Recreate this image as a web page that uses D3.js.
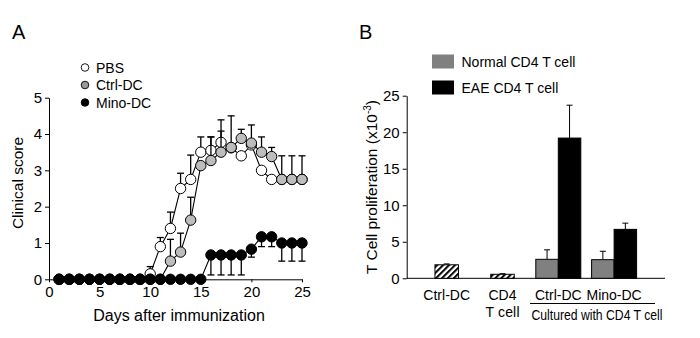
<!DOCTYPE html>
<html>
<head>
<meta charset="utf-8">
<script src="https://cdn.jsdelivr.net/npm/d3@7"></script>
<style>
  body { margin: 0; background: #fff; }
  svg { font-family: "Liberation Sans", Arial, sans-serif; }
  .axis path, .axis line { stroke: #000; stroke-width: 1; }
  .axis text { font-size: 15px; fill: #000; }
</style>
</head>
<body>
<svg id="chart" width="700" height="338"></svg>
<script>
// ---- panel A data ----
var days = d3.range(1, 26);
var pbs     = [0,0,0,0,0,0,0,0,0, 0.15,0.9,1.4,2.5,2.75,3.5,3.55,3.77,3.62,3.4,3.7,3.0,2.75,2.75,2.75,2.75];
var pbsErr  = [0,0,0,0,0,0,0,0,0, 0.2,0.25,0.45,0.42,0.67,0.42,0.37,0.62,0,0,0,0,0,0,0,0];
var ctrl    = [0,0,0,0,0,0,0,0,0,0,0, 0.5,0.75,1.63,3.13,3.27,3.5,3.63,3.88,3.75,3.5,3.38,2.75,2.75,2.75];
var ctrlErr = [0,0,0,0,0,0,0,0,0,0,0, 0.6,0.52,0.63,0,0.65,0.58,0.87,0.25,0.5,0.42,0.25,0.65,0.65,0.65];
var mino    = [0,0,0,0,0,0,0,0,0,0,0,0,0,0,0, 0.67,0.67,0.67,0.67,0.83,1.17,1.17,1.0,1.0,1.0];
var minoErr = [0,0,0,0,0,0,0,0,0,0,0,0,0,0,0, 0.55,0.55,0.55,0.55,0.22,0.27,0.27,0.5,0.5,0.5];
var xTicksA = [0, 5, 10, 15, 20, 25];
var yTicksA = [0, 1, 2, 3, 4, 5];

// ---- panel B data ----
var groups = ["g1", "g2", "g3", "g4"];
var groupLabels = [["Ctrl-DC"], ["CD4", "T cell"], ["Ctrl-DC"], ["Mino-DC"]];
var hatchGroups = ["g1", "g2"];
var hatchVals = [1.85, 0.55];
var hatchErr  = [0.12, 0.08];
var pairGroups = ["g3", "g4"];
var normalVals = [2.6, 2.55];
var normalErr  = [1.3, 1.15];
var eaeVals = [19.2, 6.7];
var eaeErr  = [4.5, 0.85];
var yTicksB = [0, 5, 10, 15, 20, 25];

var svg = d3.select("#chart");

var defs = svg.append("defs");
var pat = defs.append("pattern")
    .attr("id", "hatch").attr("patternUnits", "userSpaceOnUse")
    .attr("width", 4.2).attr("height", 4.2)
    .attr("patternTransform", "rotate(45)");
pat.append("rect").attr("width", 4.2).attr("height", 4.2).attr("fill", "#fff");
pat.append("rect").attr("x", 0).attr("y", 0).attr("width", 2).attr("height", 4.2).attr("fill", "#000");

// ================= Panel A =================
var xA = d3.scaleLinear().domain([0, 25]).range([49, 302]);
var yA = d3.scaleLinear().domain([0, 5]).range([279.3, 97.7]);

svg.append("text").attr("x", 12).attr("y", 39).attr("font-size", 20).text("A");

svg.append("g").attr("class", "axis")
    .attr("transform", "translate(0," + yA(0) + ")")
    .call(d3.axisBottom(xA).tickValues(xTicksA).tickFormat(d3.format("d"))
      .tickSize(3).tickSizeOuter(0).tickPadding(4));

svg.append("g").attr("class", "axis")
    .attr("transform", "translate(" + xA(0) + ",0)")
    .call(d3.axisLeft(yA).tickValues(yTicksA).tickFormat(d3.format("d"))
      .tickSize(4).tickSizeOuter(0).tickPadding(3));

svg.append("text").attr("x", 179).attr("y", 321)
    .attr("text-anchor", "middle").attr("font-size", 16).text("Days after immunization");
svg.append("text")
    .attr("transform", "translate(23," + 183 + ") rotate(-90)")
    .attr("text-anchor", "middle").attr("font-size", 15.5).text("Clinical score");

var seriesA = [
  { vals: pbs,  err: pbsErr,  fill: "#fff",   dir: 1 },
  { vals: ctrl, err: ctrlErr, fill: "#bdbdbd", dir: 1 },
  { vals: mino, err: minoErr, fill: "#000",   dir: -1 }
];

var line = d3.line().x(function(d, i){ return xA(days[i]); }).y(function(d){ return yA(d); });

seriesA.forEach(function(s){
  var g = svg.append("g");
  var eb = days.map(function(d, i){ return { day: d, v: s.vals[i], e: s.err[i] }; })
               .filter(function(d){ return d.e > 0; });
  g.selectAll("line.eb").data(eb).enter().append("line")
    .attr("x1", function(d){ return xA(d.day); }).attr("x2", function(d){ return xA(d.day); })
    .attr("y1", function(d){ return yA(d.v); })
    .attr("y2", function(d){ return yA(d.v + s.dir * d.e); })
    .attr("stroke", "#000").attr("stroke-width", 1.3);
  g.selectAll("line.cap").data(eb).enter().append("line")
    .attr("x1", function(d){ return xA(d.day) - 3.5; }).attr("x2", function(d){ return xA(d.day) + 3.5; })
    .attr("y1", function(d){ return yA(d.v + s.dir * d.e); })
    .attr("y2", function(d){ return yA(d.v + s.dir * d.e); })
    .attr("stroke", "#000").attr("stroke-width", 1.3);
  g.append("path").datum(s.vals).attr("d", line)
    .attr("fill", "none").attr("stroke", "#000").attr("stroke-width", 1.1);
  g.selectAll("circle").data(s.vals).enter().append("circle")
    .attr("cx", function(d, i){ return xA(days[i]); })
    .attr("cy", function(d){ return yA(d); })
    .attr("r", 5.2)
    .attr("fill", s.fill).attr("stroke", "#000").attr("stroke-width", 1);
});

// legend A
var legA = [
  { label: "PBS", fill: "#fff" },
  { label: "Ctrl-DC", fill: "#999" },
  { label: "Mino-DC", fill: "#000" }
];
legA.forEach(function(d, i){
  var y = 67.5 + i * 17.5;
  svg.append("circle").attr("cx", 85).attr("cy", y).attr("r", 3.8)
    .attr("fill", d.fill).attr("stroke", "#000").attr("stroke-width", 0.9);
  svg.append("text").attr("x", 96).attr("y", y + 5).attr("font-size", 14).text(d.label);
});

// ================= Panel B =================
var xB = d3.scaleBand().domain(groups).range([418.8, 642]);
var yB = d3.scaleLinear().domain([0, 25]).range([278.3, 95.7]);
var bw = 22.5;

svg.append("text").attr("x", 359).attr("y", 39).attr("font-size", 20).text("B");

svg.append("g").attr("class", "axis")
    .attr("transform", "translate(406.7,0)")
    .call(d3.axisLeft(yB).tickValues(yTicksB).tickFormat(d3.format("d"))
      .tickSize(4).tickSizeOuter(0).tickPadding(3));

svg.append("line").attr("x1", 406.7).attr("x2", 665)
    .attr("y1", yB(0)).attr("y2", yB(0)).attr("stroke", "#000");

var yt = svg.append("text")
    .attr("transform", "translate(377,187) rotate(-90)")
    .attr("text-anchor", "middle").attr("font-size", 15.5);
yt.append("tspan").text("T Cell proliferation (x10");
yt.append("tspan").attr("font-size", 10).attr("dy", -6).text("-3");
yt.append("tspan").attr("dy", 6).text(")");

var bars = [];
hatchGroups.forEach(function(g, i){
  bars.push({ x: xB(g) + xB.bandwidth() / 2 - bw / 2 - 0.5, w: bw + 1, v: hatchVals[i], e: hatchErr[i], fill: "url(#hatch)" });
});
pairGroups.forEach(function(g, i){
  var c = xB(g) + xB.bandwidth() / 2;
  bars.push({ x: c - bw, w: bw, v: normalVals[i], e: normalErr[i], fill: "#808080" });
  bars.push({ x: c, w: bw, v: eaeVals[i], e: eaeErr[i], fill: "#000" });
});

var gb = svg.append("g");
gb.selectAll("line.eb").data(bars).enter().append("line")
  .attr("x1", function(d){ return d.x + d.w / 2; }).attr("x2", function(d){ return d.x + d.w / 2; })
  .attr("y1", function(d){ return yB(d.v); }).attr("y2", function(d){ return yB(d.v + d.e); })
  .attr("stroke", "#000").attr("stroke-width", 1);
gb.selectAll("line.cap").data(bars).enter().append("line")
  .attr("x1", function(d){ return d.x + d.w / 2 - 3; }).attr("x2", function(d){ return d.x + d.w / 2 + 3; })
  .attr("y1", function(d){ return yB(d.v + d.e); }).attr("y2", function(d){ return yB(d.v + d.e); })
  .attr("stroke", "#000").attr("stroke-width", 1);
gb.selectAll("rect").data(bars).enter().append("rect")
  .attr("x", function(d){ return d.x; }).attr("width", function(d){ return d.w; })
  .attr("y", function(d){ return yB(d.v); })
  .attr("height", function(d){ return yB(0) - yB(d.v); })
  .attr("fill", function(d){ return d.fill; })
  .attr("stroke", "#000").attr("stroke-width", 1);

// x labels B
groups.forEach(function(g, i){
  var c = xB(g) + xB.bandwidth() / 2;
  groupLabels[i].forEach(function(t, j){
    svg.append("text").attr("x", c).attr("y", 300 + j * 17)
      .attr("text-anchor", "middle").attr("font-size", 14)
      .attr("textLength", j === 1 ? 34 : null)
      .text(t);
  });
});
svg.append("line").attr("x1", 530).attr("x2", 655).attr("y1", 303.5).attr("y2", 303.5)
  .attr("stroke", "#000").attr("stroke-width", 1);
svg.append("text").attr("x", 597).attr("y", 320).attr("text-anchor", "middle")
  .attr("font-size", 14).attr("textLength", 131).attr("lengthAdjust", "spacingAndGlyphs")
  .text("Cultured with CD4 T cell");

// legend B
var legB = [
  { label: "Normal CD4 T cell", fill: "#808080" },
  { label: "EAE CD4 T cell", fill: "#000" }
];
legB.forEach(function(d, i){
  var y = 54.5 + i * 26;
  svg.append("rect").attr("x", 432).attr("y", y).attr("width", 22).attr("height", 14).attr("fill", d.fill);
  svg.append("text").attr("x", 461.5).attr("y", y + 12.5).attr("font-size", 14).text(d.label);
});
</script>
</body>
</html>
